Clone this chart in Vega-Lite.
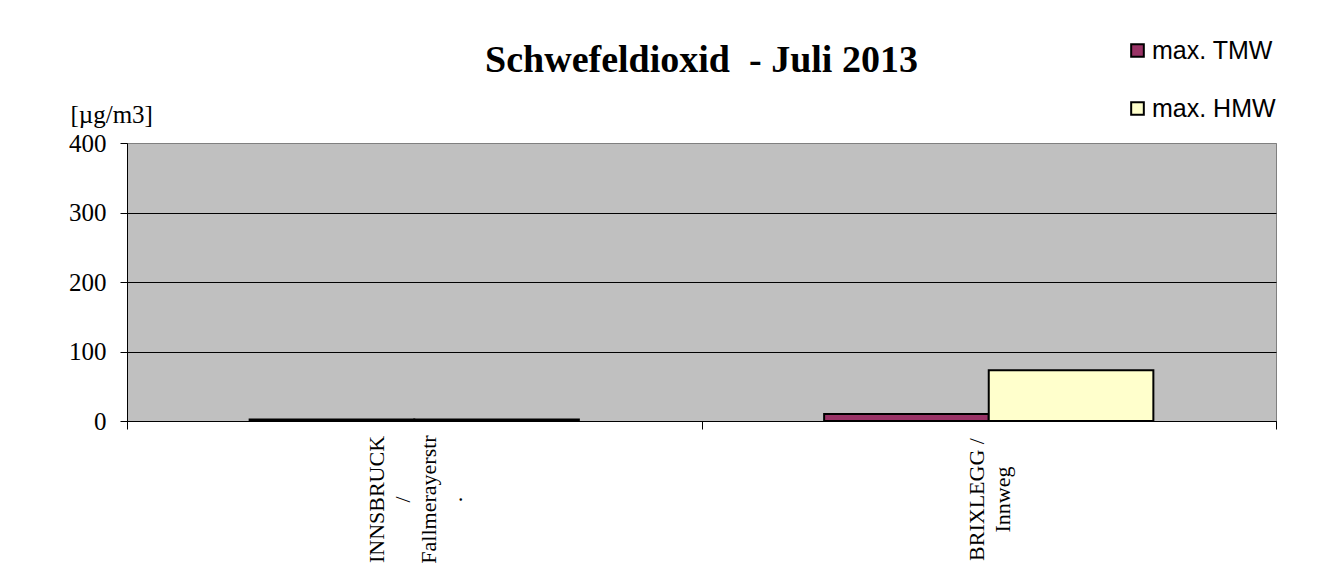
{
  "$schema": "https://vega.github.io/schema/vega-lite/v6.json",
  "width": 1149,
  "height": 278,
  "autosize": {"type": "none"},
  "padding": {"left": 127, "top": 143, "right": 56, "bottom": 147},
  "background": "white",
  "title": {
    "text": "Schwefeldioxid\u00a0 - Juli 2013",
    "font": "Liberation Serif",
    "fontSize": 38,
    "fontWeight": "bold",
    "color": "black",
    "anchor": "middle",
    "frame": "group",
    "offset": 14,
    "dy": 56
  },
  "data": {
    "values": [
      {"station": "INNSBRUCK|/|Fallmerayerstr|.", "series": "max. TMW", "value": 2},
      {"station": "INNSBRUCK|/|Fallmerayerstr|.", "series": "max. HMW", "value": 2},
      {"station": "|BRIXLEGG /|Innweg", "series": "max. TMW", "value": 10},
      {"station": "|BRIXLEGG /|Innweg", "series": "max. HMW", "value": 73}
    ]
  },
  "mark": {"type": "bar", "stroke": "black", "strokeWidth": 2},
  "encoding": {
    "x": {
      "field": "station",
      "type": "nominal",
      "sort": null,
      "scale": {"paddingInner": 0, "paddingOuter": 0},
      "axis": {
        "title": null,
        "labelExpr": "split(datum.label, '|')",
        "labelAngle": -90,
        "labelAlign": "center",
        "labelBaseline": "middle",
        "labelPadding": 70,
        "labelLineHeight": 26,
        "labelOffset": -38,
        "labelFont": "Liberation Serif",
        "labelFontSize": 22,
        "labelColor": "black",
        "labelLimit": 0,
        "tickBand": "extent",
        "tickSize": 8,
        "tickColor": "black",
        "domainColor": "black",
        "domainWidth": 1
      }
    },
    "xOffset": {
      "field": "series",
      "type": "nominal",
      "sort": ["max. TMW", "max. HMW"],
      "scale": {"paddingInner": 0, "paddingOuter": 0.745}
    },
    "y": {
      "field": "value",
      "type": "quantitative",
      "scale": {"domain": [0, 400], "nice": false},
      "axis": {
        "title": "[µg/m3]",
        "titleAngle": 0,
        "titleAlign": "left",
        "titleBaseline": "alphabetic",
        "titleX": -57,
        "titleY": -21,
        "titleFont": "Liberation Serif",
        "titleFontSize": 25,
        "titleFontWeight": "normal",
        "titleColor": "black",
        "values": [0, 100, 200, 300, 400],
        "labelFont": "Liberation Serif",
        "labelFontSize": 25,
        "labelColor": "black",
        "labelPadding": 14,
        "tickSize": 7,
        "tickColor": "black",
        "domainColor": "black",
        "grid": true,
        "gridColor": {"condition": {"test": "datum.value == 400", "value": "#808080"}, "value": "black"},
        "gridWidth": 1
      }
    },
    "color": {
      "field": "series",
      "type": "nominal",
      "sort": ["max. TMW", "max. HMW"],
      "scale": {"domain": ["max. TMW", "max. HMW"], "range": ["#993366", "#FFFFCC"]},
      "legend": {
        "title": null,
        "orient": "none",
        "legendX": 998,
        "legendY": -105,
        "symbolType": "square",
        "symbolSize": 160,
        "symbolStrokeColor": "black",
        "symbolStrokeWidth": 2,
        "symbolOpacity": 1,
        "labelFont": "Liberation Sans",
        "labelFontSize": 25,
        "labelColor": "black",
        "labelOffset": 2,
        "rowPadding": 32
      }
    }
  },
  "config": {
    "view": {"fill": "#C0C0C0", "stroke": "#808080", "strokeWidth": 1},
    "axis": {"labelFlush": false}
  }
}
